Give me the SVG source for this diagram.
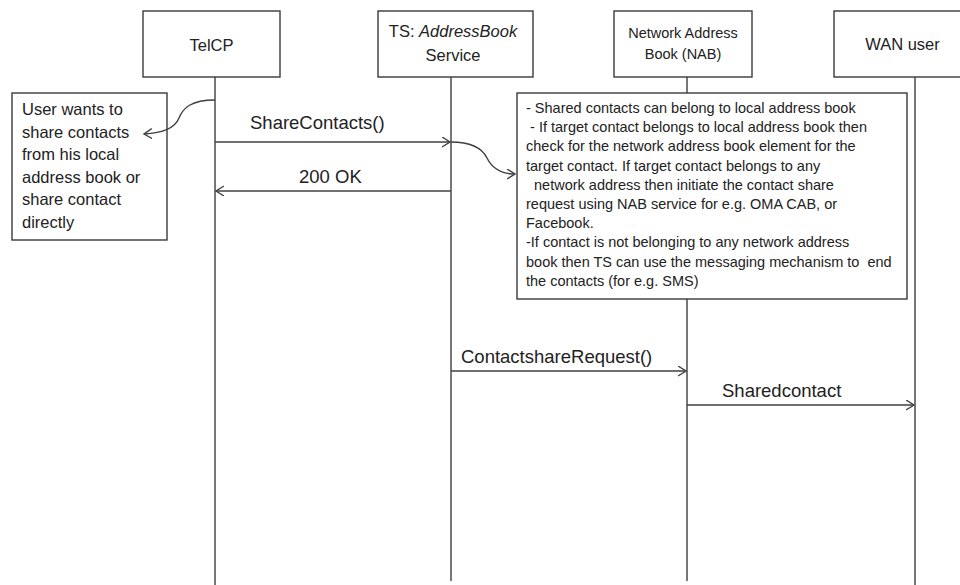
<svg xmlns="http://www.w3.org/2000/svg" width="960" height="585" viewBox="0 0 960 585">
  <style>
    .box { fill: #ffffff; stroke: #3a3a3a; stroke-width: 1.4; }
    .life { stroke: #555555; stroke-width: 1.6; fill: none; }
    .msg { stroke: #404040; stroke-width: 1.4; fill: none; marker-end: url(#open); }
    .t { font-family: "Liberation Sans", Arial, sans-serif; fill: #222222; white-space: pre; }
    .head { font-size: 16.5px; text-anchor: middle; }
    .nab { font-size: 14.5px; text-anchor: middle; }
    .note { font-size: 16.5px; }
    .big { font-size: 14.5px; }
    .lbl { font-size: 18.5px; }
  </style>
  <defs>
    <marker id="open" markerWidth="10" markerHeight="12" refX="8" refY="5" orient="auto" markerUnits="userSpaceOnUse">
      <path d="M0,0 L8,5 L0,10" fill="none" stroke="#404040" stroke-width="1.4"/>
    </marker>
  </defs>

  <rect width="960" height="585" fill="#ffffff"/>

  <!-- lifelines -->
  <g id="lifelines">
    <line class="life" x1="215" y1="77" x2="215" y2="585"/>
    <line class="life" x1="451" y1="77" x2="451" y2="581"/>
    <line class="life" x1="687" y1="77" x2="687" y2="581"/>
    <line class="life" x1="915" y1="77" x2="915" y2="585"/>
  </g>

  <!-- participants -->
  <g id="telcp">
    <rect class="box" x="143" y="11" width="137" height="66"/>
    <text class="t head" x="211.5" y="51">TelCP</text>
  </g>
  <g id="ts-service">
    <rect class="box" x="378" y="11" width="155" height="66"/>
    <text class="t head" x="453" y="37">TS: <tspan font-style="italic">AddressBook</tspan></text>
    <text class="t head" x="453" y="61">Service</text>
  </g>
  <g id="nab">
    <rect class="box" x="614" y="11" width="138" height="66"/>
    <text class="t nab" x="683" y="38">Network Address</text>
    <text class="t nab" x="683" y="59">Book (NAB)</text>
  </g>
  <g id="wan-user">
    <rect class="box" x="834" y="11" width="162" height="66"/>
    <text class="t head" x="902.5" y="50">WAN user</text>
  </g>

  <!-- notes -->
  <g id="note-user">
    <rect class="box" x="12" y="93" width="155" height="147"/>
    <text class="t note" x="22" y="115">User wants to</text>
    <text class="t note" x="22" y="137.6">share contacts</text>
    <text class="t note" x="22" y="160.2">from his local</text>
    <text class="t note" x="22" y="182.8">address book or</text>
    <text class="t note" x="22" y="205.4">share contact</text>
    <text class="t note" x="22" y="228">directly</text>
  </g>
  <g id="note-share">
    <rect class="box" x="517" y="93" width="390" height="206"/>
    <text class="t big" x="526" y="113">- Shared contacts can belong to local address book</text>
    <text class="t big" x="526" y="132.2"> - If target contact belongs to local address book then</text>
    <text class="t big" x="526" y="151.4">check for the network address book element for the</text>
    <text class="t big" x="526" y="170.6">target contact. If target contact belongs to any</text>
    <text class="t big" x="526" y="189.8">  network address then initiate the contact share</text>
    <text class="t big" x="526" y="209">request using NAB service for e.g. OMA CAB, or</text>
    <text class="t big" x="526" y="228.2">Facebook.</text>
    <text class="t big" x="526" y="247.4">-If contact is not belonging to any network address</text>
    <text class="t big" x="526" y="266.6">book then TS can use the messaging mechanism to  end</text>
    <text class="t big" x="526" y="285.8">the contacts (for e.g. SMS)</text>
  </g>

  <!-- messages and note links -->
  <g id="connectors">
    <path class="msg" d="M215,100 C191,100 183,108 179,118 C175,128 163,133 144,134"/>
    <path class="msg" d="M215,142 L450,142"/>
    <text class="t lbl" x="250" y="129" font-size="21px">ShareContacts()</text>
    <path class="msg" d="M451,191 L216,191"/>
    <text class="t lbl" x="299" y="183">200 OK</text>
    <path class="msg" d="M451,142 C472,142 482,148 487,158 C492,168 500,174 515,174"/>
    <path class="msg" d="M451,371 L686,371"/>
    <text class="t lbl" x="461" y="363">ContactshareRequest()</text>
    <path class="msg" d="M687,405 L914,405"/>
    <text class="t lbl" x="722" y="397">Sharedcontact</text>
  </g>
</svg>
